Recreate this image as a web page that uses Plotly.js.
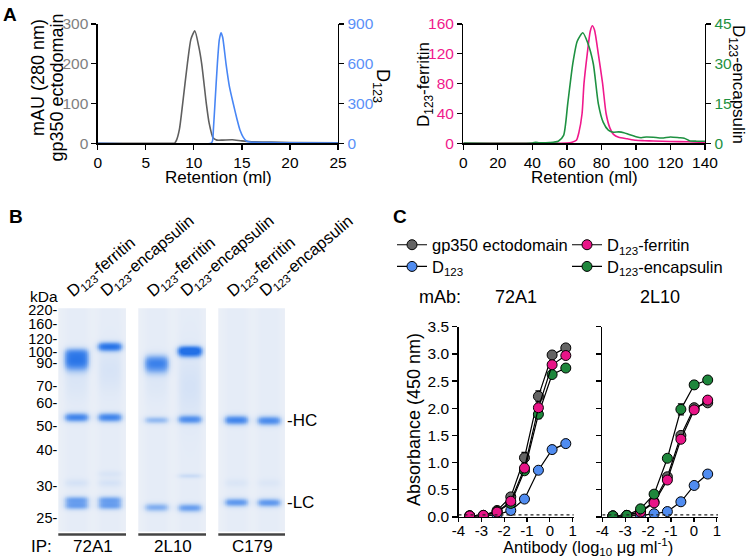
<!DOCTYPE html>
<html><head><meta charset="utf-8">
<script src="https://cdn.plot.ly/plotly-3.0.1.min.js"></script>
<style>html,body{margin:0;padding:0;background:#fff}#chart{width:747px;height:559px}</style>
</head><body><div id="chart"></div>
<script>
// ===== Panel A: size-exclusion chromatograms =====
const secGp350X = [0, 7.8, 8.0, 8.2, 8.5, 8.84, 9.33, 9.7, 10.1, 10.5, 10.82, 11.3, 11.6, 12.0, 12.4, 13.0, 14.0, 15.0, 16.0, 18.0, 20.0, 25];
const secGp350Y = [0, 0, 0.5, 8, 35, 100, 200, 262, 283, 245, 200, 100, 50, 14, 8, 8, 9, 6, 4, 3, 2, 1];
const secD123X = [0, 11.8, 11.95, 12.05, 12.2, 12.45, 12.65, 12.83, 13.0, 13.35, 13.7, 14.1, 14.5, 14.8, 15.15, 15.5, 16, 18, 20, 25];
const secD123Y = [0, 0, 20, 120, 300, 600, 780, 834, 800, 600, 430, 300, 180, 100, 45, 15, 8, 5, 3, 2];
const secFerritinX = [0, 60, 63, 65.5, 67, 68.8, 69.9, 71.8, 73.5, 74.7, 76, 78.2, 80.7, 82.7, 85, 87, 90, 95, 100, 105, 110, 120, 130, 140];
const secFerritinY = [0, 0.5, 1.5, 4, 15, 40, 80, 120, 150, 157.7, 152, 120, 80, 40, 20, 12, 8, 6, 4, 3.5, 3, 2.5, 2, 1];
const secEncapX = [0, 40, 42, 44, 50, 55, 58.1, 60.5, 63.4, 66, 69.2, 72, 75.3, 78.2, 81, 84, 87, 90, 93, 96, 100, 103, 106, 110, 115, 120, 125, 128, 131, 135, 140];
const secEncapY = [0.1, 0.1, 0.4, 0.2, 0.3, 0.8, 3, 15, 30, 38.5, 41.7, 38, 30, 15, 8, 5, 4.2, 4.3, 4, 3.3, 2.5, 2.1, 2.4, 2.3, 2.0, 2.4, 2.1, 1.9, 1, 0.8, 0.8];

// ===== Panel B: SDS-PAGE gel =====
const gelMarkerKDa = [220, 160, 120, 100, 90, 70, 60, 50, 40, 30, 25];
const gelMarkerPos = [1.7, 15.7, 31, 43.4, 55, 77.7, 94.4, 117.4, 141.4, 177.4, 210]; // migration (a.u.)
const gelLaneNames = ['D<sub>123</sub>-ferritin', 'D<sub>123</sub>-encapsulin', 'D<sub>123</sub>-ferritin', 'D<sub>123</sub>-encapsulin', 'D<sub>123</sub>-ferritin', 'D<sub>123</sub>-encapsulin'];
const gelIP = ['72A1', '2L10', 'C179'];
const gelChainNames = ['-HC', '-LC'];
const gelChainPos = [111.7, 194];
// bands: lane index, migration, intensity, spread
const gelBandLane = [0,0,0,0,0,0,0,0,  1,1,1,1,1,1,1,  2,2,2,2,2,  3,3,3,3,3,3,  4,4,4,  5,5,5];
const gelBandPos  = [44,50,57,72,109,174.5,191.5,197.5,  38.3,62,109,165.5,174.5,191.5,197.5,  52,59,75,111.7,199,  41,45,78,111,167.5,199.5,  111.7,174.5,194,  112.3,174.5,194.3];
const gelBandInt  = [0.42,0.62,0.48,0.07,0.75,0.1,0.5,0.5,  0.9,0.09,0.75,0.08,0.1,0.5,0.5,  0.5,0.52,0.05,0.38,0.45,  0.75,0.7,0.1,0.65,0.15,0.55,  0.75,0.07,0.6,  0.7,0.06,0.6];
const gelBandSig  = [3.5,5,5,14,3.2,3,2.8,2.8,  3.2,16,3.2,2.5,3,2.8,2.8,  4.5,5,12,2.6,3,  2.8,3,25,3,1.8,3,  3.3,3,3,  3.3,3,3];

// ===== Panel C: ELISA =====
const elisaX72A1 = [-3.51, -2.91, -2.31, -1.71, -1.11, -0.50, 0.10, 0.70];
const elisa72Gp350 = [0.02, 0.03, 0.12, 0.37, 1.09, 2.22, 2.98, 3.11];
const elisa72Gp350Err = [0, 0, 0.02, 0.03, 0.1, 0.1, 0.04, 0.04];
const elisa72D123 = [0.02, 0.02, 0.04, 0.12, 0.33, 0.86, 1.24, 1.35];
const elisa72D123Err = [0, 0, 0, 0.02, 0.03, 0.03, 0.07, 0.04];
const elisa72Ferritin = [0.02, 0.03, 0.09, 0.29, 0.90, 2.01, 2.80, 2.97];
const elisa72FerritinErr = [0, 0, 0.01, 0.02, 0.05, 0.06, 0.03, 0.03];
const elisa72Encap = [0.02, 0.03, 0.10, 0.25, 0.85, 1.89, 2.62, 2.74];
const elisa72EncapErr = [0, 0, 0.01, 0.02, 0.05, 0.08, 0.04, 0.06];
const elisaX2L10 = [-3.54, -2.93, -2.33, -1.74, -1.16, -0.57, 0.01, 0.60];
const elisa2LGp350 = [0.02, 0.03, 0.10, 0.28, 0.74, 1.50, 2.01, 2.10];
const elisa2LGp350Err = [0, 0, 0.01, 0.02, 0.04, 0.05, 0.04, 0.03];
const elisa2LD123 = [0.01, 0.02, 0.03, 0.06, 0.10, 0.28, 0.58, 0.79];
const elisa2LD123Err = [0, 0, 0, 0.01, 0.02, 0.02, 0.03, 0.03];
const elisa2LFerritin = [0.02, 0.03, 0.09, 0.26, 0.68, 1.43, 1.97, 2.15];
const elisa2LFerritinErr = [0, 0, 0.01, 0.02, 0.04, 0.05, 0.04, 0.04];
const elisa2LEncap = [0.02, 0.03, 0.15, 0.42, 1.08, 1.98, 2.43, 2.52];
const elisa2LEncapErr = [0, 0, 0.02, 0.03, 0.03, 0.1, 0.07, 0.03];
const elisaXTicks = [-4, -3, -2, -1, 0, 1];
const elisaXTickText = ['-4', '-3', '-2', '-1', '0', '1'];
const elisaYTicks = [0, 0.5, 1, 1.5, 2, 2.5, 3, 3.5];
const elisaBlank = 0.04;

// ===== styling =====
const FONT = 'Arial, "Liberation Sans", Helvetica, sans-serif';
const W = 747, H = 559;
const px = v => v / W;
const py = v => 1 - v / H;
const GRAYC = 'rgb(95,95,95)', GRAYT = 'rgb(128,128,128)';
const BLUE = 'rgb(72,134,245)', BLUET = 'rgb(90,145,248)';
const PINK = 'rgb(240,25,140)', GREEN = 'rgb(30,145,65)';
const MK = {gp: 'rgb(100,100,100)', d: 'rgb(80,140,240)', f: 'rgb(232,20,135)', e: 'rgb(30,135,60)'};

const ax = (o) => Object.assign({
  showline: true, linecolor: '#000', linewidth: 1.3, ticks: 'outside', ticklen: 5,
  tickwidth: 1.3, tickcolor: '#000', showgrid: false, zeroline: false,
  tickfont: {family: FONT, size: 15.5, color: '#000'}, fixedrange: true
}, o);

const traces = [];
// Panel A lines
traces.push({x: secGp350X, y: secGp350Y, xaxis: 'x', yaxis: 'y', mode: 'lines', line: {color: GRAYC, width: 1.6, shape: 'spline', smoothing: 0.6}, showlegend: false, hoverinfo: 'skip'});
traces.push({x: secD123X, y: secD123Y, xaxis: 'x', yaxis: 'y2', mode: 'lines', line: {color: BLUE, width: 1.6, shape: 'spline', smoothing: 0.6}, showlegend: false, hoverinfo: 'skip'});
traces.push({x: secEncapX, y: secEncapY, xaxis: 'x2', yaxis: 'y4', mode: 'lines', line: {color: GREEN, width: 1.6, shape: 'spline', smoothing: 0.6}, showlegend: false, hoverinfo: 'skip'});
traces.push({x: secFerritinX, y: secFerritinY, xaxis: 'x2', yaxis: 'y3', mode: 'lines', line: {color: PINK, width: 1.6, shape: 'spline', smoothing: 0.6}, showlegend: false, hoverinfo: 'skip'});

// Panel B gel heatmaps
const gelCols = []; for (let x = 0.45; x <= 2.4801; x += 0.02) gelCols.push(+x.toFixed(3));
const gelRows = []; for (let y = 0; y <= 223.4; y += 1) gelRows.push(y);
const laneProfile = (dx, hw) => 1 / (1 + Math.exp((Math.abs(dx) - hw) / 0.055));
const gelScale = [[0, 'rgb(234,239,247)'], [0.12, 'rgb(216,228,246)'], [0.3, 'rgb(176,204,243)'], [0.55, 'rgb(112,163,239)'], [0.8, 'rgb(62,131,235)'], [1, 'rgb(35,112,230)']];
for (let p = 0; p < 3; p++) {
  const z = gelRows.map(y => gelCols.map(x => {
    let v = 0;
    for (let k = 0; k < 2; k++) {
      const li = 2 * p + k;
      const h = laneProfile(x - (k + 1), 0.34);
      if (h < 0.001) continue;
      let s = 0.035;
      for (let b = 0; b < gelBandLane.length; b++) {
        if (gelBandLane[b] !== li) continue;
        const d = (y - gelBandPos[b]) / gelBandSig[b];
        s += gelBandInt[b] * Math.exp(-0.5 * d * d);
      }
      v += s * h;
    }
    return Math.min(v, 1);
  }));
  traces.push({type: 'heatmap', x: gelCols, y: gelRows, z: z, xaxis: 'x' + (3 + p), yaxis: 'y5', colorscale: gelScale, zmin: 0, zmax: 1, showscale: false, hoverinfo: 'skip'});
}

// Panel C ELISA
function elisa(xs, ys, err, color, xa, ya, name, legend, show) {
  return {x: xs, y: ys, xaxis: xa, yaxis: ya, mode: 'lines+markers', name: name,
    line: {color: '#000', width: 1.2},
    marker: {size: 10, color: color, line: {color: '#000', width: 1}},
    error_y: {type: 'data', array: err, color: '#000', thickness: 1.2, width: 3},
    showlegend: show, legend: legend, hoverinfo: 'skip'};
}
traces.push(elisa(elisaX72A1, elisa72D123, elisa72D123Err, MK.d, 'x6', 'y6', 'D<sub>123</sub>', 'legend2', true));
traces.push(elisa(elisaX72A1, elisa72Gp350, elisa72Gp350Err, MK.gp, 'x6', 'y6', 'gp350 ectodomain', 'legend', true));
traces.push(elisa(elisaX72A1, elisa72Encap, elisa72EncapErr, MK.e, 'x6', 'y6', 'D<sub>123</sub>-encapsulin', 'legend4', true));
traces.push(elisa(elisaX72A1, elisa72Ferritin, elisa72FerritinErr, MK.f, 'x6', 'y6', 'D<sub>123</sub>-ferritin', 'legend3', true));
traces.push(elisa(elisaX2L10, elisa2LD123, elisa2LD123Err, MK.d, 'x7', 'y7', 'D123', 'legend', false));
traces.push(elisa(elisaX2L10, elisa2LGp350, elisa2LGp350Err, MK.gp, 'x7', 'y7', 'gp350', 'legend', false));
traces.push(elisa(elisaX2L10, elisa2LFerritin, elisa2LFerritinErr, MK.f, 'x7', 'y7', 'ferritin', 'legend', false));
traces.push(elisa(elisaX2L10, elisa2LEncap, elisa2LEncapErr, MK.e, 'x7', 'y7', 'encapsulin', 'legend', false));

// annotations
const A = [];
const ann = (text, x, y, o) => A.push(Object.assign({text: text, x: x, y: y, xref: 'paper', yref: 'paper', showarrow: false, xanchor: 'center', yanchor: 'middle', font: {family: FONT, size: 17, color: '#000'}}, o || {}));
ann('<b>A</b>', px(10), py(14.5), {font: {family: FONT, size: 19, color: '#000'}});
ann('<b>B</b>', px(16), py(216), {font: {family: FONT, size: 19, color: '#000'}});
ann('<b>C</b>', px(400), py(216), {font: {family: FONT, size: 19, color: '#000'}});
ann('mAU (280 nm)', px(38), py(78), {textangle: -90, font: {family: FONT, size: 18, color: '#000'}});
ann('gp350 ectodomain', px(56.5), py(88), {textangle: -90, font: {family: FONT, size: 18, color: '#000'}});
ann('D<sub>123</sub>', px(382), py(86), {textangle: 90, font: {family: FONT, size: 18, color: '#000'}});
ann('Retention (ml)', px(218), py(177.5));
ann('Retention (ml)', px(584), py(177.5));
ann('D<sub>123</sub>-ferritin', px(425), py(85), {textangle: -90});
ann('D<sub>123</sub>-encapsulin', px(737), py(84), {textangle: 90});
// gel labels
ann('kDa', px(44), py(296), {font: {family: FONT, size: 15.5, color: '#000'}});
for (let i = 0; i < 6; i++) {
  A.push({text: gelLaneNames[i], x: (i % 2) + 1, xref: 'x' + (3 + Math.floor(i / 2)), y: py(304), yref: 'paper',
    showarrow: false, textangle: -40, xanchor: 'left', yanchor: 'bottom', xshift: -16,
    font: {family: FONT, size: 16.5, color: '#000'}});
}
ann('IP:', px(41), py(546));
for (let p = 0; p < 3; p++) {
  A.push({text: gelIP[p], x: 1.5, xref: 'x' + (3 + p), y: py(546), yref: 'paper', xanchor: 'center', yanchor: 'middle', showarrow: false, font: {family: FONT, size: 17, color: '#000'}});
}
for (let c = 0; c < 2; c++) {
  A.push({text: gelChainNames[c], x: 2.48, xref: 'x5', y: gelChainPos[c], yref: 'y5', xanchor: 'left', yanchor: 'middle', showarrow: false, font: {family: FONT, size: 17, color: '#000'}});
}
// ELISA labels
ann('mAb:', px(440), py(297), {font: {family: FONT, size: 18, color: '#000'}});
ann('72A1', px(516), py(297), {font: {family: FONT, size: 18, color: '#000'}});
ann('2L10', px(660), py(297), {font: {family: FONT, size: 18, color: '#000'}});
ann('Absorbance (450 nm)', px(414), py(420), {textangle: -90, font: {family: FONT, size: 18, color: '#000'}});
ann('Antibody (log<sub>10</sub> μg ml<sup>-1</sup>)', px(588), py(546.5), {font: {family: FONT, size: 16.5, color: '#000'}});

const shapes = [];
for (let p = 0; p < 3; p++) {
  shapes.push({type: 'line', xref: 'x' + (3 + p) + ' domain', x0: 0, x1: 1, yref: 'paper', y0: py(534.5), y1: py(534.5), line: {color: '#444', width: 2.5}});
}
['x6', 'x7'].forEach((xa, i) => shapes.push({type: 'line', xref: xa, yref: 'y' + (6 + i), x0: -4, x1: 1.05, y0: elisaBlank, y1: elisaBlank, line: {color: '#222', width: 1.4, dash: 'dot'}}));

const gelX = {visible: false, range: [0.45, 2.48], fixedrange: true, anchor: 'y5'};
const legBase = (x, y) => ({x: px(x), y: py(y), xanchor: 'left', yanchor: 'middle', bgcolor: 'rgba(0,0,0,0)', font: {family: FONT, size: 16.5, color: '#000'}, itemwidth: 30, borderwidth: 0});
const cX = {ticklen: 4, ticklabelstandoff: -4, tickfont: {family: FONT, size: 15, color: '#000'}};

const layout = {
  width: W, height: H, margin: {l: 0, r: 0, t: 0, b: 0}, paper_bgcolor: '#fff', plot_bgcolor: 'rgba(0,0,0,0)',
  font: {family: FONT, size: 16, color: '#000'}, hovermode: false, showlegend: true,
  legend: legBase(392, 245), legend2: legBase(392, 266.7), legend3: legBase(567, 245), legend4: legBase(567, 266.7),
  xaxis: ax({domain: [px(97.7), px(338)], range: [0, 25], tickvals: [0, 5, 10, 15, 20, 25], anchor: 'y'}),
  yaxis: ax({domain: [py(143.3), py(24)], range: [0, 300], tickvals: [0, 100, 200, 300], anchor: 'x', tickfont: {family: FONT, size: 15.5, color: GRAYT}}),
  yaxis2: ax({overlaying: 'y', side: 'right', anchor: 'x', range: [0, 900], tickvals: [0, 300, 600, 900], tickfont: {family: FONT, size: 15.5, color: BLUET}}),
  xaxis2: ax({domain: [px(463.3), px(705)], range: [0, 140], tickvals: [0, 20, 40, 60, 80, 100, 120, 140], anchor: 'y3'}),
  yaxis3: ax({domain: [py(143.3), py(24)], range: [0, 160], tickvals: [0, 40, 80, 120, 160], anchor: 'x2', tickfont: {family: FONT, size: 15.5, color: PINK}}),
  yaxis4: ax({overlaying: 'y3', side: 'right', anchor: 'x2', range: [0, 45], tickvals: [0, 15, 30, 45], tickfont: {family: FONT, size: 15.5, color: GREEN}}),
  xaxis3: Object.assign({domain: [px(58.3), px(126)]}, gelX),
  xaxis4: Object.assign({domain: [px(138.3), px(206)]}, gelX),
  xaxis5: Object.assign({domain: [px(218.3), px(285)]}, gelX),
  yaxis5: {domain: [py(531.7), py(308.3)], range: [223.4, 0], anchor: 'x3', tickvals: gelMarkerPos, ticktext: gelMarkerKDa.map(v => v + '-'),
    showline: false, ticks: '', showgrid: false, zeroline: false, ticklabelstandoff: 0, fixedrange: true, tickfont: {family: FONT, size: 14.5, color: '#000'}},
  xaxis6: ax(Object.assign({domain: [px(458.5), px(573.8)], range: [-4, 1.05], tickvals: elisaXTicks, ticktext: elisaXTickText, anchor: 'y6'}, cX)),
  yaxis6: ax({domain: [py(517), py(326.7)], range: [0, 3.5], tickvals: elisaYTicks, tickformat: '.1f', anchor: 'x6'}),
  xaxis7: ax(Object.assign({domain: [px(602.3), px(718)], range: [-4, 1.05], tickvals: elisaXTicks, ticktext: elisaXTickText, anchor: 'y7'}, cX)),
  yaxis7: ax({domain: [py(517), py(326.7)], range: [0, 3.5], tickvals: elisaYTicks, showticklabels: false, anchor: 'x7'}),
  annotations: A, shapes: shapes
};
Plotly.newPlot('chart', traces, layout, {staticPlot: true, displayModeBar: false});
</script></body></html>
